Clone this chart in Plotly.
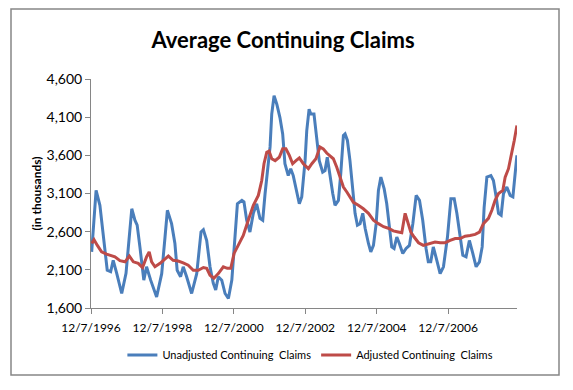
import plotly.graph_objects as go

# Unadjusted (NSA) continuing claims, thousands
unadj_dates = [
    "1996-12-14", "1997-01-28", "1997-03-08", "1997-04-11", "1997-05-22", "1997-06-26", "1997-07-22",
    "1997-08-27", "1997-10-17", "1997-11-30", "1998-01-03", "1998-01-28", "1998-03-01", "1998-03-24",
    "1998-04-21", "1998-05-31", "1998-06-28", "1998-08-09", "1998-10-09", "1998-11-30", "1999-01-03",
    "1999-01-27", "1999-03-11", "1999-04-14", "1999-05-07", "1999-06-11", "1999-07-08", "1999-08-12",
    "1999-10-02", "1999-11-23", "2000-01-06", "2000-01-30", "2000-03-04", "2000-04-07", "2000-05-10",
    "2000-06-04", "2000-07-01", "2000-08-05", "2000-09-08", "2000-10-12", "2000-11-16", "2000-12-19",
    "2001-01-12", "2001-02-27", "2001-03-20", "2001-04-17", "2001-05-20", "2001-06-24", "2001-07-28",
    "2001-08-31", "2001-09-28", "2001-10-22", "2001-11-25", "2001-12-12", "2001-12-29", "2002-01-22",
    "2002-02-19", "2002-03-23", "2002-04-20", "2002-05-13", "2002-06-16", "2002-07-11", "2002-08-06",
    "2002-09-11", "2002-10-07", "2002-11-01", "2002-12-05", "2002-12-22", "2003-01-15", "2003-02-02",
    "2003-03-06", "2003-04-02", "2003-04-29", "2003-06-03", "2003-06-27", "2003-07-20", "2003-08-17",
    "2003-09-14", "2003-10-07", "2003-11-11", "2003-12-05", "2004-01-01", "2004-01-18", "2004-02-11",
    "2004-03-08", "2004-04-06", "2004-04-29", "2004-05-23", "2004-06-19", "2004-07-17", "2004-08-10",
    "2004-09-13", "2004-10-07", "2004-11-03", "2004-12-01", "2004-12-24", "2005-01-18", "2005-02-21",
    "2005-03-19", "2005-04-15", "2005-05-09", "2005-06-02", "2005-06-30", "2005-07-26", "2005-08-30",
    "2005-10-03", "2005-11-06", "2005-12-11", "2006-01-14", "2006-02-17", "2006-03-22", "2006-04-25",
    "2006-05-18", "2006-06-12", "2006-07-08", "2006-08-13", "2006-09-16", "2006-10-20", "2006-11-30",
    "2007-01-04", "2007-02-07", "2007-03-06", "2007-04-08", "2007-05-06", "2007-06-08", "2007-07-12",
    "2007-08-16", "2007-09-19", "2007-10-23", "2007-11-20", "2007-12-10", "2008-01-07", "2008-02-17",
    "2008-03-14", "2008-04-11", "2008-05-05", "2008-06-01", "2008-06-25", "2008-07-29", "2008-09-01",
    "2008-09-29", "2008-10-22", "2008-11-09",
]
unadj_values = [
    2335, 3140, 2945, 2580, 2095, 2075, 2225,
    2055, 1790, 2055, 2530, 2900, 2750, 2685,
    2400, 1965, 2140, 1965, 1745, 2050, 2530,
    2880, 2705, 2445, 2095, 2010, 2140, 2010,
    1790, 2050, 2595, 2625, 2485, 2140, 1925,
    1835, 2010, 1965, 1790, 1725, 1965, 2530,
    2965, 3010, 2990, 2750, 2595, 2840, 2965,
    2775, 2750, 3100, 3490, 3710, 4140, 4380,
    4270, 4095, 3880, 3490, 3335, 3425, 3335,
    3140, 2965, 3055, 3530, 3920, 4205, 4140,
    4140, 3835, 3530, 3380, 3400, 3575, 3315,
    3100, 2945, 3010, 3360, 3860, 3880, 3795,
    3530, 3185, 2840, 2685, 2705, 2840, 2645,
    2445, 2335, 2420, 2705, 3140, 3315, 3160,
    2965, 2665, 2400, 2380, 2530, 2445, 2315,
    2380, 2420, 2705, 3075, 3010, 2750, 2380,
    2205, 2205, 2400, 2225, 2050, 2140, 2530,
    3030, 3030, 2840, 2530, 2290, 2270, 2485,
    2315, 2140, 2205, 2400, 2920, 3315, 3335,
    3270, 3055, 2840, 2815, 3100, 3185, 3075,
    3055, 3315, 3600,
]

# Seasonally adjusted continuing claims, thousands
adj_dates = [
    "1996-12-14", "1997-01-07", "1997-02-10", "1997-03-25", "1997-05-15", "1997-06-26", "1997-08-09",
    "1997-09-29", "1997-11-20", "1998-01-03", "1998-02-13", "1998-04-04", "1998-05-18", "1998-06-28",
    "1998-07-25", "1998-08-19", "1998-09-22", "1998-11-13", "1999-01-03", "1999-02-06", "1999-03-27",
    "1999-05-17", "1999-07-08", "1999-08-28", "1999-10-19", "1999-12-09", "2000-01-30", "2000-03-04",
    "2000-04-07", "2000-05-17", "2000-07-01", "2000-08-21", "2000-10-01", "2000-11-05", "2000-12-09",
    "2001-01-22", "2001-03-13", "2001-05-03", "2001-06-24", "2001-08-14", "2001-09-18", "2001-10-11",
    "2001-11-08", "2001-12-02", "2001-12-29", "2002-02-02", "2002-03-16", "2002-04-20", "2002-05-23",
    "2002-06-27", "2002-07-31", "2002-09-03", "2002-10-07", "2002-11-17", "2003-01-08", "2003-02-12",
    "2003-03-26", "2003-05-06", "2003-06-09", "2003-07-14", "2003-08-10", "2003-09-20", "2003-10-25",
    "2003-11-28", "2004-01-01", "2004-02-05", "2004-03-08", "2004-04-12", "2004-06-02", "2004-07-23",
    "2004-09-13", "2004-11-03", "2004-12-24", "2005-02-14", "2005-04-04", "2005-05-25", "2005-07-15",
    "2005-08-20", "2005-09-23", "2005-10-16", "2005-11-20", "2005-12-24", "2006-02-07", "2006-03-28",
    "2006-05-18", "2006-07-26", "2006-09-16", "2006-11-06", "2006-12-27", "2007-02-17", "2007-04-08",
    "2007-05-29", "2007-07-19", "2007-09-09", "2007-10-23", "2007-12-03", "2008-01-23", "2008-02-27",
    "2008-03-31", "2008-05-05", "2008-06-18", "2008-07-12", "2008-08-15", "2008-09-19", "2008-10-13",
    "2008-11-09",
]
adj_values = [
    2445, 2495, 2420, 2335, 2305, 2290, 2270,
    2220, 2205, 2280, 2205, 2185, 2130, 2270,
    2335, 2205, 2140, 2185, 2250, 2280, 2225,
    2215, 2190, 2160, 2095, 2095, 2130, 2120,
    2030, 1990, 2050, 2140, 2120, 2120, 2315,
    2420, 2550, 2750, 2945, 3075, 3270, 3490,
    3640, 3655, 3555, 3530, 3575, 3685, 3685,
    3600, 3490, 3530, 3565, 3490, 3425, 3490,
    3555, 3710, 3685, 3630, 3600, 3555, 3445,
    3315, 3185, 3120, 3055, 2985, 2945, 2900,
    2840, 2750, 2705, 2665, 2645, 2610, 2595,
    2585, 2840, 2750, 2595, 2530, 2455, 2420,
    2435, 2465, 2455, 2455, 2485, 2510, 2510,
    2540, 2550, 2565, 2595, 2705, 2775, 2880,
    3010, 3100, 3140, 3315, 3425, 3620, 3795,
    3990,
]

x_tick_vals = ["1996-12-07", "1998-12-07", "2000-12-07", "2002-12-07", "2004-12-07", "2006-12-07"]
x_tick_text = ["12/7/1996", "12/7/1998", "12/7/2000", "12/7/2002", "12/7/2004", "12/7/2006"]
y_tick_vals = [1600, 2100, 2600, 3100, 3600, 4100, 4600]

series_names = ["Unadjusted Continuing  Claims", "Adjusted Continuing  Claims"]
series_colors = ["#4A7EBB", "#BE4B48"]

FONT = "Lato, Liberation Sans, sans-serif"
AXIS_GRAY = "#868686"

fig = go.Figure()
fig.add_trace(go.Scatter(x=unadj_dates, y=unadj_values, mode="lines", name=series_names[0],
                         line=dict(color=series_colors[0], width=3)))
fig.add_trace(go.Scatter(x=adj_dates, y=adj_values, mode="lines", name=series_names[1],
                         line=dict(color=series_colors[1], width=3)))

W, H = 573, 390
L, R, T, B = 91, 56, 79, 82
pw, ph = W - L - R, H - T - B

def px_x(p):
    return (p - L) / pw

def px_y(p):
    return (H - B - p) / ph

fig.update_layout(
    width=W, height=H,
    margin=dict(l=L, r=R, t=T, b=B, autoexpand=False),
    paper_bgcolor="white", plot_bgcolor="white",
    font=dict(family=FONT, size=12, color="black"),
    title=dict(text="<b>Average Continuing Claims</b>", x=0.494, xanchor="center",
               y=1 - 40 / H, yanchor="middle", font=dict(size=22, family=FONT, color="black")),
    showlegend=True,
    legend=dict(orientation="h", x=0.515, xanchor="center", y=px_y(355), yanchor="middle",
                font=dict(size=11, family=FONT), itemwidth=30, bgcolor="rgba(0,0,0,0)"),
    xaxis=dict(type="date", range=["1996-12-07", "2008-11-10"], tickvals=x_tick_vals,
               ticktext=x_tick_text, showgrid=False, zeroline=False, showline=True,
               linecolor=AXIS_GRAY, linewidth=1, ticks="outside", ticklen=5, tickcolor=AXIS_GRAY,
               tickfont=dict(size=12, family=FONT), ticklabelstandoff=4),
    yaxis=dict(range=[1600, 4600], tickvals=y_tick_vals, tickformat=",", showgrid=False,
               zeroline=False, showline=True, linecolor=AXIS_GRAY, linewidth=1, ticks="outside",
               ticklen=5, tickcolor=AXIS_GRAY, tickfont=dict(size=14, family=FONT),
               title=dict(text="<b>(in thousands)</b>", font=dict(size=12, family=FONT), standoff=2)),
    shapes=[dict(type="rect", xref="paper", yref="paper",
                 x0=px_x(11), x1=px_x(559), y0=px_y(375), y1=px_y(9),
                 line=dict(color=AXIS_GRAY, width=1.5), fillcolor="rgba(0,0,0,0)", layer="below")],
)

fig.write_html("out.html", config={"displayModeBar": False},
               post_script="document.body.style.margin='0';document.body.style.overflow='hidden';")
